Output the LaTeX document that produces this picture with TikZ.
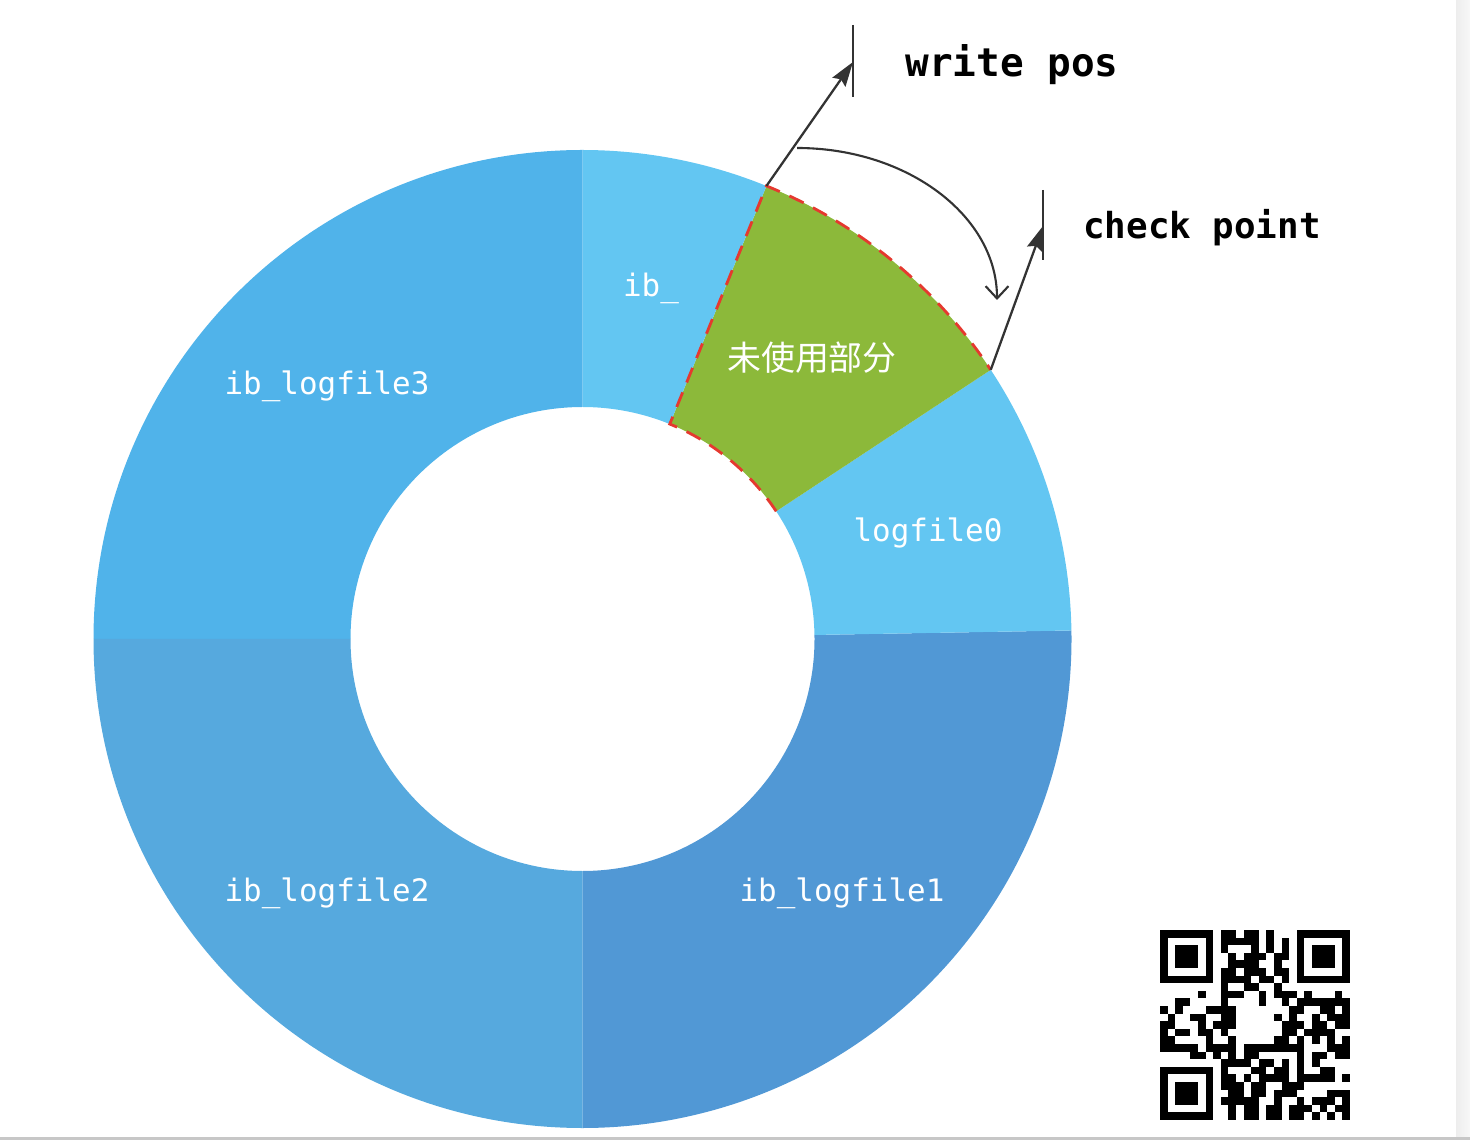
\documentclass[tikz,border=0pt]{standalone}
\usepackage{fontspec}
\setmonofont{DejaVu Sans Mono}
\newfontfamily\cjk{Noto Sans CJK SC}
\usetikzlibrary{calc,arrows.meta}
\definecolor{lightblue}{HTML}{63C6F2}
\definecolor{blueA}{HTML}{50B3EA}
\definecolor{blueB}{HTML}{56A9DE}
\definecolor{blueC}{HTML}{5198D5}
\definecolor{unused}{HTML}{8CB93A}
\definecolor{dashred}{HTML}{E5392F}
\definecolor{ink}{HTML}{333333}
\begin{document}
\begin{tikzpicture}[x=0.02cm, y=0.02cm,
  seglabel/.style={text=white, font=\ttfamily\fontsize{17.6}{20}\selectfont},
  marker/.style={draw=ink, line width=1.3pt, -{Stealth[length=14pt,width=9pt,inset=2pt]}},
  bar/.style={draw=ink, line width=1.4pt},
  turn/.style={draw=ink, line width=1.2pt, -{Straight Barb[length=7pt,width=13pt]}},
  posname/.style={font=\ttfamily\bfseries\fontsize{22.4}{26}\selectfont}]
  \useasboundingbox (0,0) rectangle (1470,1140);
  \shade[left color=black!7, right color=black!3] (1456,3) rectangle (1470,1140);
  \fill[black!22] (0,0) rectangle (1470,3);
  \coordinate (C) at (582.5,501);
  \def\R{489}
  \def\r{232}
  \foreach \a/\b/\col in {90/180/blueA, 180/270/blueB, 270/361/blueC, 1/33.4/lightblue, 33.4/67.9/unused, 67.9/90/lightblue}
    \fill[\col] ($(C)+(\a:\R)$) arc[start angle=\a, end angle=\b, radius=\R]
      -- ($(C)+(\b:\r)$) arc[start angle=\b, end angle=\a, radius=\r] -- cycle;
  \draw[dashred, line width=1.6pt, dash pattern=on 9pt off 6pt]
    ($(C)+(33.4:\r)$) arc[start angle=33.4, end angle=67.9, radius=\r]
    -- ($(C)+(67.9:\R)$) arc[start angle=67.9, end angle=33.4, radius=\R];
  \node[seglabel] (l3) at (327,754) {ib\_logfile3};
  \node[seglabel] (l2) at (327,247) {ib\_logfile2};
  \node[seglabel] (l1) at (842,247) {ib\_logfile1};
  \node[seglabel] (l0) at (928,607) {logfile0};
  \node[seglabel] (ib) at (651,852) {ib\_};
  \node[text=white, font=\cjk\fontsize{19.3}{22}\selectfont] (free) at (812,782) {未使用部分};
  \coordinate (wp) at ($(C)+(67.9:\R)$);
  \coordinate (cp) at ($(C)+(33.4:\R)$);
  \coordinate (wptip) at (853,1078);
  \coordinate (cptip) at (1043,914);
  \draw[bar] (853,1115) -- (853,1043);
  \draw[bar] (1043,950) -- (1043,880);
  \draw[marker] (wp) -- (wptip);
  \draw[marker] (cp) -- (cptip);
  \node[posname] (wpname) at (1012,1075) {write pos};
  \node[posname, font=\ttfamily\bfseries\fontsize{20.4}{24}\selectfont] (cpname) at (1202,912) {check point};
  \coordinate (arcstart) at (797,992);
  \draw[turn] (arcstart) arc[start angle=90, end angle=0, x radius=200, y radius=152];
  % qr code
  \begin{scope}[shift={(1160,20)}]
    \def\m{7.6}
    \pgfmathsetseed{11}
    \foreach \i in {0,...,24}{
      \foreach \j in {0,...,24}{
        \pgfmathrandominteger{\q}{0}{9}
        \pgfmathtruncatemacro{\skipit}{((\i<8 && \j<8) || (\i>16 && \j>16) || (\i<8 && \j>16) || (\i>9 && \i<15 && \j>9 && \j<15)) ? 1 : 0}
        \ifnum\skipit=0 \ifnum\q<6
          \fill (\i*\m,\j*\m) rectangle ++(\m,\m);
        \fi\fi
      }
    }
    \foreach \px/\py in {0/0, 0/18, 18/18}{
      \fill (\px*\m,\py*\m) rectangle ++(7*\m,7*\m);
      \fill[white] (\px*\m+\m,\py*\m+\m) rectangle ++(5*\m,5*\m);
      \fill (\px*\m+2*\m,\py*\m+2*\m) rectangle ++(3*\m,3*\m);
    }
  \end{scope}
\end{tikzpicture}
\end{document}
